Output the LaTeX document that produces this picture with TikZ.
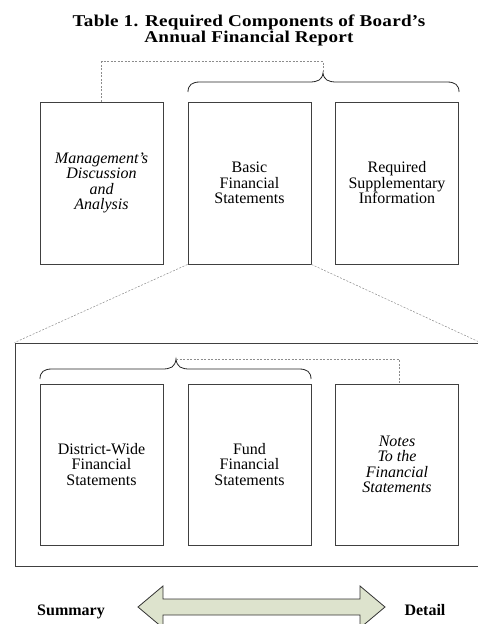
\documentclass[tikz,border=0pt]{standalone}
\usepackage{fontspec}
\setmainfont{Liberation Serif}
\newfontfamily\titlefont[FakeStretch=1.16,LetterSpace=1.5]{Liberation Serif}
\definecolor{arrowfill}{RGB}{221,227,205}
\begin{document}
\begin{tikzpicture}[x=1pt,y=-1pt,
    box/.style={draw=black!75,line width=0.9pt,minimum width=123pt,minimum height=162pt,
      inner sep=0pt,align=center,font=\fontsize{16}{15.5}\selectfont},
    guide/.style={draw=black!45,line width=0.5pt,dash pattern=on 2pt off 1.5pt},
    brace/.style={draw=black!85,line width=0.8pt}]
  \useasboundingbox (0,0) rectangle (477,624);
  \node[font=\titlefont\fontsize{16.5}{16}\selectfont\bfseries,align=center] (title) at (249,30)
    {Table 1. Required Components of Board’s\\Annual Financial Report};
  % top row
  \node[box] (mda) at (101.5,183) {\itshape Management’s\\\itshape Discussion\\\itshape and\\\itshape Analysis};
  \node[box] (bfs) at (249.5,183) {Basic\\Financial\\Statements};
  \node[box] (rsi) at (397,183) {Required\\Supplementary\\Information};
  \coordinate (toptip) at (323,73);
  \draw[brace] (188,92) .. controls (188,85) and (192,82) .. (200,82) -- (309,82)
    .. controls (318,82) and (322,80) .. (toptip)
    .. controls (324,80) and (328,82) .. (337,82) -- (447,82)
    .. controls (455,82) and (459,85) .. (459,92);
  \draw[guide] (mda.north) -- ++(0,-40) -| (toptip);
  % detail of basic statements
  \node[draw=black!75,line width=0.9pt,minimum width=465pt,minimum height=223pt] (detail) at (247.5,454.5) {};
  \draw[guide] (bfs.south west) -- (detail.north west);
  \draw[guide] (bfs.south east) -- (detail.north east);
  \node[box,minimum height=161pt] (dws) at (101.5,464.5) {District-Wide\\Financial\\Statements};
  \node[box,minimum height=161pt] (ffs) at (249.5,464.5) {Fund\\Financial\\Statements};
  \node[box,minimum height=161pt] (notes) at (397,464.5) {\itshape Notes\\\itshape To the\\\itshape Financial\\\itshape Statements};
  \coordinate (lowtip) at (176,359);
  \draw[brace] (40,379) .. controls (40,372) and (44,369) .. (52,369) -- (162,369)
    .. controls (171,369) and (175,367) .. (lowtip)
    .. controls (177,367) and (181,369) .. (190,369) -- (299,369)
    .. controls (307,369) and (311,372) .. (311,379);
  \draw[guide] (lowtip) -| ([xshift=2pt]notes.north);
  % summary / detail scale
  \node[font=\fontsize{16}{16}\selectfont\bfseries,anchor=base] (summary) at (71,615) {Summary};
  \node[font=\fontsize{16}{16}\selectfont\bfseries,anchor=base] (detailtext) at (425,615) {Detail};
  \draw[draw=black!80,line width=0.8pt,fill=arrowfill] (138,607) -- (163,586) -- (163,599) -- (360,599)
    -- (360,586) -- (385,607) -- (360,628) -- (360,615) -- (163,615) -- (163,628) -- cycle;
\end{tikzpicture}
\end{document}
